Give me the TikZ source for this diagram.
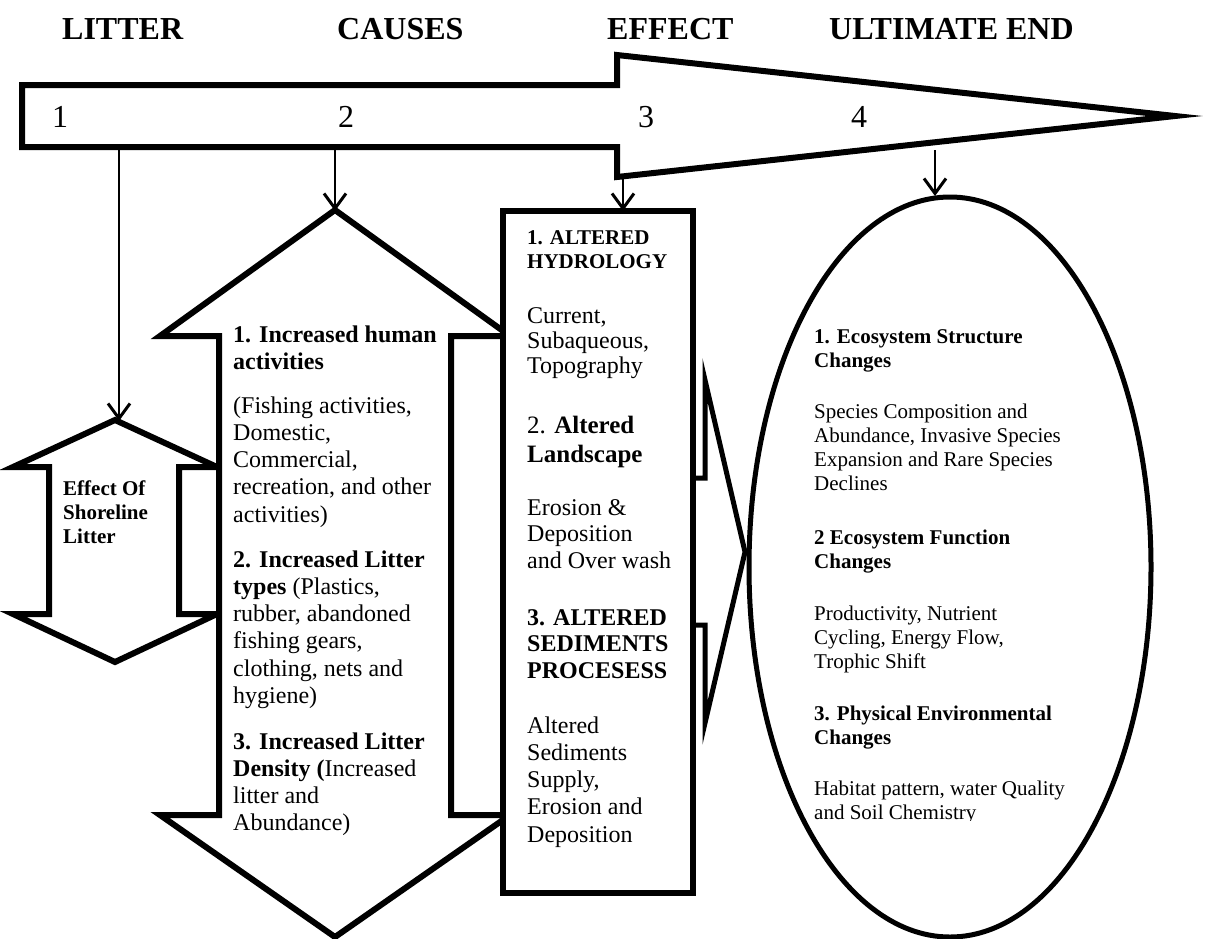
\documentclass[tikz,border=0pt]{standalone}
\usepackage{fontspec}
\setmainfont{Liberation Serif}
\usetikzlibrary{arrows.meta}
\newcommand{\toplines}[1]{\vtop{\halign{##\hfil\cr#1\crcr}}}
\begin{document}
\begin{tikzpicture}[x=1pt,y=-1pt,
  blockshape/.style={draw=black, line width=6pt, fill=white, line join=miter},
  conn/.style={draw=black, line width=2pt, -{Straight Barb[length=15pt,width=22pt,line width=3pt]}},
  title/.style={anchor=base west, inner sep=0pt, font=\fontsize{32}{36}\selectfont\bfseries},
  num/.style={anchor=base, inner sep=0pt, font=\fontsize{32}{36}\selectfont},
  txt/.style={anchor=base west, inner sep=0pt},
  midfont/.style={font=\fontsize{24}{27.3}\selectfont},
  ellfont/.style={font=\fontsize{21}{24}\selectfont},
  ellbold/.style={font=\fontsize{21}{24}\selectfont\bfseries}
]
\useasboundingbox (0,0) rectangle (1209,938);

% titles
\node[title] (tLitter) at (62,39) {LITTER};
\node[title] (tCauses) at (337,39) {CAUSES};
\node[title] (tEffect) at (607,39) {EFFECT};
\node[title] (tEnd) at (829,39) {ULTIMATE END};

% big arrow
\draw[blockshape] (22,85) -- (617,85) -- (617,55) -- (1175,116) -- (617,177) -- (617,147) -- (22,147) -- cycle;
\node[num] (n1) at (60,127) {1};
\node[num] (n2) at (346,127) {2};
\node[num] (n3) at (646,127) {3};
\node[num] (n4) at (859,127) {4};

% left double arrow
\draw[blockshape] (115,420) -- (217,467) -- (179,467) -- (179,614) -- (217,614) -- (115,662)
  -- (13,614) -- (49,614) -- (49,467) -- (13,467) -- cycle;
\node[txt, font=\fontsize{21}{24}\selectfont\bfseries] (lt) at (63,495) {\toplines{Effect Of\cr Shoreline\cr Litter}};

% middle double arrow
\draw[blockshape] (335,210) -- (510,336) -- (451,336) -- (451,815) -- (510,815) -- (335,937)
  -- (160,815) -- (219,815) -- (219,336) -- (160,336) -- cycle;
\node[txt, midfont] (m1) at (233,342) {\toplines{\textbf{1. Increased human}\cr\textbf{activities}}};
\node[txt, midfont] (m2) at (233,413) {\toplines{(Fishing activities,\cr Domestic,\cr Commercial,\cr recreation, and other\cr activities)}};
\node[txt, midfont] (m3) at (233,567) {\toplines{\textbf{2. Increased Litter}\cr\textbf{types} (Plastics,\cr rubber, abandoned\cr fishing gears,\cr clothing, nets and\cr hygiene)}};
\node[txt, midfont] (m4) at (233,749) {\toplines{\textbf{3. Increased Litter}\cr\textbf{Density (}Increased\cr litter and\cr Abundance)}};

% block arrow to ellipse
\draw[draw=black, line width=5pt, fill=white, line join=miter] (660,478) -- (705,478) -- (705,380) -- (745,552) -- (705,723) -- (705,625) -- (660,625) -- cycle;

% effect box
\draw[blockshape] (503,211) rectangle (693,893);
\node[txt, font=\fontsize{21}{24}\selectfont\bfseries] (b1) at (527,244) {\toplines{1. ALTERED\cr HYDROLOGY}};
\node[txt, font=\fontsize{24}{25}\selectfont] (b2) at (527,323) {\toplines{Current,\cr Subaqueous,\cr Topography}};
\node[txt, font=\fontsize{25}{29}\selectfont] (b3) at (527,433) {\toplines{2. \textbf{Altered}\cr\textbf{Landscape}}};
\node[txt, font=\fontsize{24}{26.5}\selectfont] (b4) at (527,515) {\toplines{Erosion \&\cr Deposition\cr and Over wash}};
\node[txt, font=\fontsize{24}{26.5}\selectfont\bfseries] (b5) at (527,625) {\toplines{3. ALTERED\cr SEDIMENTS\cr PROCESESS}};
\node[txt, font=\fontsize{24}{27.3}\selectfont] (b6) at (527,733) {\toplines{Altered\cr Sediments\cr Supply,\cr Erosion and\cr Deposition}};

% ellipse
\draw[line width=5pt] (950,567) ellipse [x radius=201, y radius=370];
\node[txt, ellbold] (e1) at (814,343) {\toplines{1. Ecosystem Structure\cr Changes}};
\node[txt, ellfont] (e2) at (814,418) {\toplines{Species Composition and\cr Abundance, Invasive Species\cr Expansion and Rare Species\cr Declines}};
\node[txt, ellbold] (e3) at (814,544) {\toplines{2 Ecosystem Function\cr Changes}};
\node[txt, ellfont] (e4) at (814,620) {\toplines{Productivity, Nutrient\cr Cycling, Energy Flow,\cr Trophic Shift}};
\node[txt, ellbold] (e5) at (814,720) {\toplines{3. Physical Environmental\cr Changes}};
\begin{scope}
\clip (790,760) rectangle (1120,820);
\node[txt, ellfont] (e6) at (814,795) {\toplines{Habitat pattern, water Quality\cr and Soil Chemistry}};
\end{scope}

% connectors
\coordinate (c1s) at (119,147); \coordinate (c1e) at (119,421);
\coordinate (c2s) at (335,147); \coordinate (c2e) at (335,211);
\coordinate (c3s) at (623,177); \coordinate (c3e) at (623,211);
\coordinate (c4s) at (935,150); \coordinate (c4e) at (935,196);
\draw[conn] (c1s) -- (c1e);
\draw[conn] (c2s) -- (c2e);
\draw[conn] (c3s) -- (c3e);
\draw[conn] (c4s) -- (c4e);
\end{tikzpicture}
\end{document}
